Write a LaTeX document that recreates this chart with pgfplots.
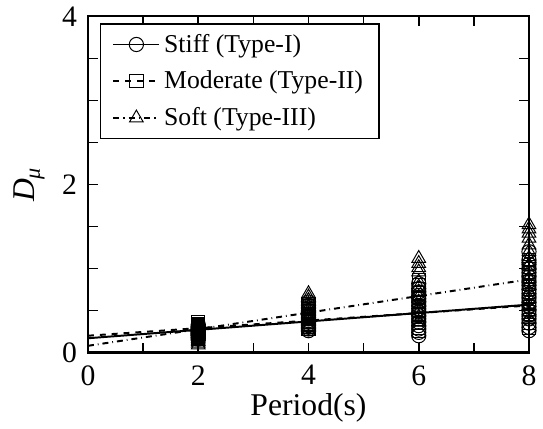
\documentclass[border=0pt]{standalone}
\usepackage{fontspec}
\setmainfont{Liberation Serif}
\usepackage{pgfplots}
\pgfplotsset{compat=1.18}
\begin{document}
\begin{tikzpicture}
\begin{axis}[
  scale only axis, width=223pt, height=170pt,
  xmin=0, xmax=8, ymin=0, ymax=4,
  xtick={0,2,4,6,8}, ytick={0,2,4},
  minor xtick={1,3,5,7}, minor ytick={0.5,1,1.5,2.5,3,3.5},
  tick align=inside, major tick length=5pt, minor tick length=5pt,
  axis line style={line width=1.1pt},
  every tick/.style={line width=0.8pt, black},
  /pgf/number format/assume math mode=true,
  tick label style={font=\fontsize{15}{18}\selectfont},
  xticklabel style={yshift=-3pt},
  yticklabel style={xshift=-2pt},
  xlabel={Period(s)}, ylabel={\textit{D}\textsubscript{\textit{μ}}},
  label style={font=\fontsize{16}{18}\selectfont},
  xlabel style={yshift=3pt},
  ylabel style={yshift=2pt},
  legend style={at={(0,1)}, anchor=north west, xshift=6pt, yshift=-3.5pt,
    draw=black, line width=0.8pt,
    font=\fontsize{13}{15}\selectfont, row sep=4pt, inner xsep=6pt, inner ysep=3pt},
  legend cell align=left,
  legend image code/.code={\draw[mark repeat=2,mark phase=2,#1] plot coordinates {(0cm,0cm) (0.41cm,0cm) (0.82cm,0cm)};},
  every axis plot/.append style={black},
]
% scatter data
\addplot[only marks, mark=o, mark size=3.6pt, line width=0.5pt, forget plot] coordinates {
(2,0.16)(2,0.18)(2,0.20)(2,0.21)(2,0.22)(2,0.23)(2,0.24)(2,0.25)(2,0.26)(2,0.27)(2,0.28)(2,0.29)(2,0.30)(2,0.31)(2,0.33)
(4,0.26)(4,0.28)(4,0.30)(4,0.32)(4,0.34)(4,0.36)(4,0.38)(4,0.40)(4,0.42)(4,0.44)(4,0.46)(4,0.48)(4,0.50)(4,0.53)(4,0.56)(4,0.60)
(6,0.20)(6,0.24)(6,0.28)(6,0.32)(6,0.36)(6,0.40)(6,0.44)(6,0.48)(6,0.52)(6,0.56)(6,0.60)(6,0.64)(6,0.68)(6,0.72)(6,0.76)(6,0.82)
(8,0.26)(8,0.30)(8,0.35)(8,0.40)(8,0.45)(8,0.50)(8,0.55)(8,0.60)(8,0.65)(8,0.70)(8,0.75)(8,0.80)(8,0.85)(8,0.90)(8,0.95)(8,1.00)(8,1.05)(8,1.10)(8,1.20)
};
\addplot[only marks, mark=square, mark size=3.4pt, line width=0.5pt, forget plot] coordinates {
(2,0.17)(2,0.19)(2,0.21)(2,0.22)(2,0.23)(2,0.24)(2,0.25)(2,0.26)(2,0.27)(2,0.28)(2,0.29)(2,0.30)(2,0.31)(2,0.32)(2,0.34)(2,0.36)
(4,0.28)(4,0.31)(4,0.34)(4,0.37)(4,0.40)(4,0.43)(4,0.46)(4,0.49)(4,0.52)(4,0.55)(4,0.58)
(6,0.26)(6,0.30)(6,0.35)(6,0.40)(6,0.45)(6,0.50)(6,0.55)(6,0.60)(6,0.65)(6,0.70)(6,0.75)(6,0.80)(6,0.86)
(8,0.30)(8,0.36)(8,0.42)(8,0.48)(8,0.54)(8,0.60)(8,0.66)(8,0.72)(8,0.78)(8,0.84)(8,0.90)(8,0.96)(8,1.02)(8,1.10)
};
\addplot[only marks, mark=triangle, mark size=4pt, line width=0.5pt, forget plot] coordinates {
(2,0.09)(2,0.11)(2,0.13)(2,0.15)(2,0.17)(2,0.19)(2,0.21)(2,0.23)(2,0.25)(2,0.27)(2,0.30)
(4,0.30)(4,0.34)(4,0.38)(4,0.42)(4,0.46)(4,0.50)(4,0.54)(4,0.58)(4,0.62)(4,0.66)(4,0.70)
(6,0.36)(6,0.42)(6,0.48)(6,0.54)(6,0.60)(6,0.66)(6,0.72)(6,0.78)(6,0.84)(6,0.96)(6,1.01)(6,1.06)(6,1.12)
(8,0.40)(8,0.48)(8,0.56)(8,0.64)(8,0.72)(8,0.80)(8,0.88)(8,0.96)(8,1.04)(8,1.12)(8,1.20)(8,1.28)(8,1.36)(8,1.42)(8,1.47)(8,1.52)
};
% fit lines
\addplot[solid, line width=1pt, forget plot] coordinates {(0,0.17)(8,0.57)};
\addplot[dashed, line width=1pt, forget plot] coordinates {(0,0.20)(8,0.56)};
\addplot[dash dot, line width=1pt, forget plot] coordinates {(0,0.08)(8,0.87)};
% legend
\addlegendimage{solid, line width=0.8pt, mark=o, mark size=3.6pt, mark options={solid, line width=0.5pt}}
\addlegendentry{Stiff (Type-I)}
\addlegendimage{dashed, line width=0.8pt, mark=square, mark size=3.4pt, mark options={solid, line width=0.5pt}}
\addlegendentry{Moderate (Type-II)}
\addlegendimage{dash dot, line width=0.8pt, mark=triangle, mark size=4pt, mark options={solid, line width=0.5pt}}
\addlegendentry{Soft (Type-III)}
\end{axis}
\path ([xshift=-44.5pt]current axis.south west);
\end{tikzpicture}
\end{document}
